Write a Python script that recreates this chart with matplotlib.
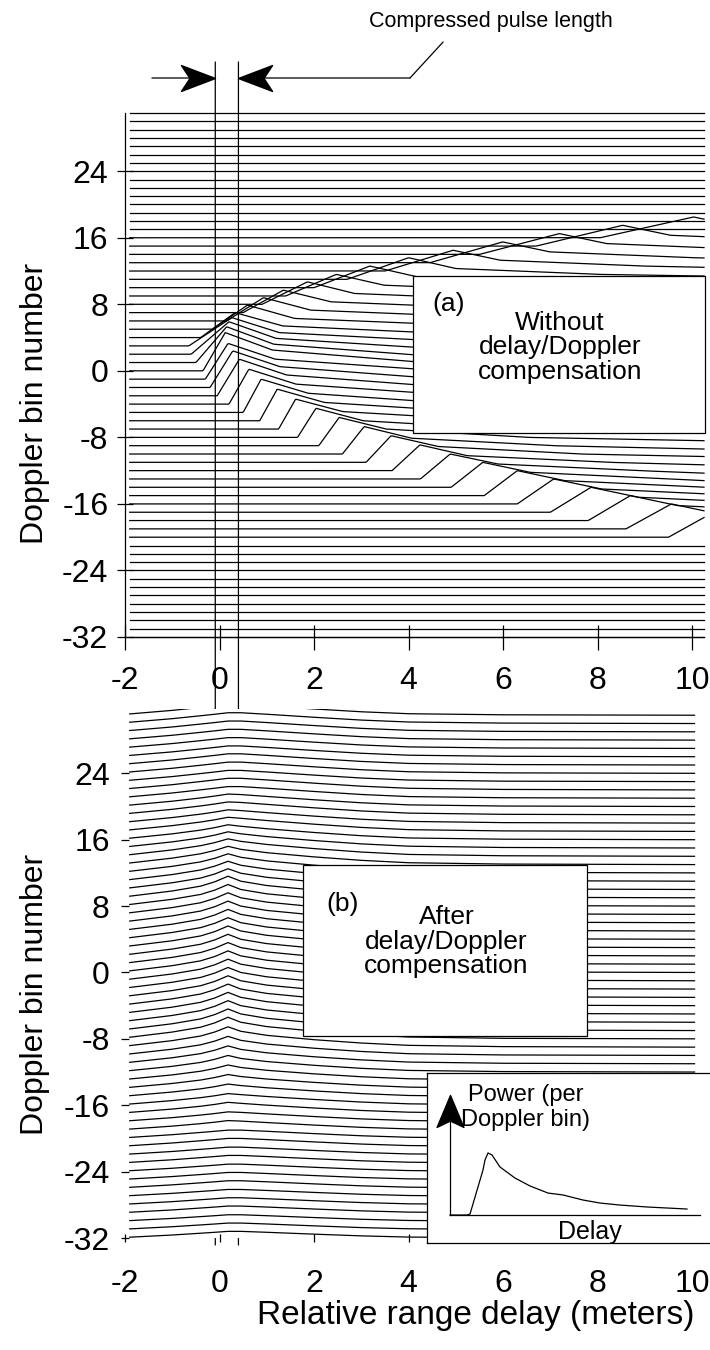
import matplotlib
matplotlib.use("Agg")
import matplotlib.pyplot as plt
from matplotlib.patches import Rectangle
from matplotlib.path import Path
import numpy as np

plt.rcParams['font.family'] = ['Liberation Sans', 'DejaVu Sans']

# ---------------- data ----------------
bins = list(range(-32, 32))                # Doppler bins, one trace each
x_ticks = [-2, 0, 2, 4, 6, 8, 10]
y_ticks = [-32, -24, -16, -8, 0, 8, 16, 24]
pulse_edges = [-0.09, 0.40]                # compressed pulse length (m)

# (a) uncompensated: per-bin leading edge, peak delay, peak height, decay knots, tail
a_bins  = [-20, -19, -18, -17, -16, -15, -14, -13, -12, -11, -10, -9, -8, -7, -6, -5, -4, -3, -2, -1,
           0, 1, 2, 3, 4, 5, 6, 7, 8, 9, 10, 11, 12, 13, 14, 15, 16]
a_onset = [9.5, 8.6, 7.8, 7.0, 6.3, 5.6, 4.9, 4.25, 3.65, 3.1, 2.6, 2.1, 1.65, 1.25, 0.85, 0.5, 0.2, -0.05, -0.2, -0.3,
           -0.35, -0.5, -0.6, -0.65, -0.4, -0.15, 0.15, 0.5, 0.9, 1.4, 2.0, 2.7, 3.5, 4.45, 5.5, 6.7, 8.05]
a_peak  = [10.45, 9.56, 8.69, 7.86, 7.07, 6.30, 5.57, 4.88, 4.24, 3.63, 3.06, 2.53, 2.04, 1.61, 1.22, 0.88, 0.62, 0.42, 0.28, 0.18,
           0.12, 0.15, 0.2, 0.26, 0.33, 0.59, 0.93, 1.35, 1.86, 2.47, 3.18, 4.0, 4.94, 5.99, 7.19, 8.53, 10.03]
a_amp   = [3.0, 3.0, 3.0, 3.0, 3.0, 3.0, 3.0, 3.0, 3.1, 3.2, 3.3, 3.4, 3.5, 3.6, 3.8, 4.0, 4.2, 4.4, 4.4, 4.3,
           4.6, 4.3, 3.9, 3.4, 3.0, 2.9, 2.8, 2.7, 2.7, 2.6, 2.6, 2.6, 2.5, 2.5, 2.5, 2.5, 2.5]
a_mid   = [1.8, 1.8, 1.8, 1.8, 1.8, 1.8, 1.8, 1.8, 1.8, 1.9, 1.9, 2.0, 2.0, 2.1, 2.2, 2.3, 2.4, 2.5, 2.5, 2.4,
           2.5, 2.2, 1.9, 1.6, 1.4, 1.3, 1.3, 1.3, 1.3, 1.3, 1.3, 1.3, 1.3, 1.3, 1.3, 1.3, 1.3]
a_mid2  = [1.0, 1.0, 1.0, 1.0, 1.0, 1.0, 1.0, 1.0, 1.0, 1.0, 1.0, 1.0, 1.0, 1.1, 1.1, 1.1, 1.2, 1.2, 1.2, 1.2,
           1.1, 0.9, 0.8, 0.7, 0.6, 0.6, 0.6, 0.6, 0.6, 0.6, 0.6, 0.6, 0.6, 0.6, 0.6, 0.6, 0.6]
a_tail  = [1.0, 1.5, 1.2, 1.0, 0.9, 0.8, 0.8, 0.7, 0.7, 0.7, 0.6, 0.6, 0.6, 0.6, 0.6, 0.6, 0.6, 0.6, 0.6, 0.6,
           0.5, 0.45, 0.4, 0.4, 0.4, 0.4, 0.4, 0.4, 0.4, 0.4, 0.4, 0.4, 0.45, 0.55, 0.8, 1.1, 1.4]

# (b) compensated: shared knot delays, sharp/broad profiles, per-bin weights
b_knots = [-1.9, -1.0, -0.4, -0.1, 0.18, 0.45, 1.0, 2.0, 3.0, 4.0, 6.0, 10.05]
b_sharp = [0.0, 0.1, 0.25, 0.55, 1.0, 0.4, 0.1, 0.0, 0.0, 0.0, 0.0, 0.0]
b_broad = [0.12, 0.45, 0.72, 0.86, 1.0, 1.0, 0.86, 0.58, 0.32, 0.14, 0.04, 0.0]
b_spike = [0.0, 0.0, 0.0, 0.0, 0.0, 0.0, 0.0, 0.0, 0.0, 0.0, 0.0, 0.0, 0.0, 0.1, 0.1, 0.2,
           0.2, 0.3, 0.4, 0.5, 0.6, 0.7, 0.8, 0.9, 1.0, 1.0, 1.0, 1.0, 1.0, 1.0, 1.0, 1.0,
           1.0, 1.0, 1.0, 1.0, 1.0, 1.0, 1.0, 1.0, 1.0, 1.0, 0.9, 0.8, 0.7, 0.6, 0.5, 0.4,
           0.3, 0.2, 0.15, 0.1, 0.1, 0.0, 0.0, 0.0, 0.0, 0.0, 0.0, 0.0, 0.0, 0.0, 0.0, 0.0]
b_hump  = [0.8, 0.8, 0.8, 0.85, 0.85, 0.85, 0.9, 0.9, 0.9, 0.95, 0.95, 1.0, 1.0, 1.05, 1.1, 1.15,
           1.2, 1.25, 1.3, 1.35, 1.4, 1.45, 1.5, 1.55, 1.6, 1.6, 1.6, 1.6, 1.6, 1.6, 1.6, 1.6,
           1.6, 1.6, 1.6, 1.6, 1.6, 1.6, 1.6, 1.6, 1.6, 1.6, 1.6, 1.6, 1.6, 1.6, 1.6, 1.55,
           1.5, 1.5, 1.45, 1.45, 1.4, 1.4, 1.4, 1.35, 1.35, 1.35, 1.3, 1.3, 1.3, 1.3, 1.3, 1.3]

# inset: schematic power vs delay for one Doppler bin
inset_delay = [0.0, 0.68, 0.8, 1.32, 1.4, 1.52, 1.68, 2.0, 2.6, 3.2, 3.92, 4.52, 5.32, 6.0, 6.8, 7.88, 9.48]
inset_power = [0.0, 0.0, 0.08, 3.75, 4.58, 5.17, 5.0, 4.0, 3.08, 2.42, 1.83, 1.67, 1.25, 1.0, 0.83, 0.67, 0.5]

# ---------------- figure ----------------
W, H = 710, 1350
fig = plt.figure(figsize=(W / 100, H / 100), dpi=100)


def px_axes(left, top, right, bottom, **kw):
    return fig.add_axes([left / W, 1 - bottom / H, (right - left) / W, (bottom - top) / H], **kw)


# stealth arrowhead markers (tip at the data point)
stealth_right = Path([(0, 0), (-1, -0.38), (-0.75, 0), (-1, 0.38), (0, 0)],
                     [Path.MOVETO, Path.LINETO, Path.LINETO, Path.LINETO, Path.CLOSEPOLY])
stealth_left = Path([(0, 0), (1, -0.38), (0.75, 0), (1, 0.38), (0, 0)],
                    [Path.MOVETO, Path.LINETO, Path.LINETO, Path.LINETO, Path.CLOSEPOLY])
stealth_up = Path([(0, 0), (-0.42, -1), (0, -0.8), (0.42, -1), (0, 0)],
                  [Path.MOVETO, Path.LINETO, Path.LINETO, Path.LINETO, Path.CLOSEPOLY])

XMIN, XMAX = -2, 10.25
ax_a = px_axes(125, 113, 704, 637)
ax_b = px_axes(125, 709, 704, 1238)

lw = 0.9
# panel (a)
for k in bins:
    if k in a_bins:
        i = a_bins.index(k)
        xp = a_peak[i]
        xs = np.array([-1.9, a_onset[i], xp, xp + 1.0, xp + 4.0, max(XMAX, xp + 4.5)])
        ys = np.array([0, 0, a_amp[i], a_mid[i], a_mid2[i], a_tail[i]])
        xx = np.linspace(-1.9, XMAX, 500)
        yy = np.interp(xx, xs, ys)
        ax_a.plot(xx, k + yy, color="black", lw=lw, clip_on=False)
    else:
        ax_a.plot([-1.9, XMAX], [k, k], color="black", lw=lw, clip_on=False)

# panel (b)
for j, k in enumerate(bins):
    prof = [k + b_spike[j] * s + b_hump[j] * b for s, b in zip(b_sharp, b_broad)]
    ax_b.plot(b_knots, prof, color="black", lw=lw)

for ax in (ax_a, ax_b):
    ax.set_xlim(XMIN, XMAX)
    ax.set_xticks(x_ticks)
    ax.set_yticks(y_ticks)
    ax.set_xticklabels([str(v) for v in x_ticks], fontsize=23)
    ax.set_yticklabels([str(v) for v in y_ticks], fontsize=23)
    ax.spines['top'].set_visible(False)
    ax.spines['right'].set_visible(False)
    ax.set_ylabel("Doppler bin number", fontsize=23)

ax_a.set_ylim(-32, 31)
ax_b.set_ylim(-32, 31.75)

ax_a.tick_params(axis='both', direction='inout', length=12, width=0.9)
ax_a.tick_params(axis='x', length=18, pad=12)
ax_a.tick_params(axis='y', pad=6)
ax_a.spines['left'].set_linewidth(0.9)
ax_a.spines['bottom'].set_linewidth(0.9)
ax_a.yaxis.set_label_coords(-0.13, 0.445)

ax_b.spines['left'].set_visible(False)
ax_b.spines['bottom'].set_visible(False)
ax_b.tick_params(axis='both', direction='inout', length=6, width=0.9)
ax_b.tick_params(axis='x', pad=19)
ax_b.tick_params(axis='y', pad=8)
ax_b.yaxis.set_label_coords(-0.13, 0.46)
ax_b.set_xlabel("Relative range delay (meters)", fontsize=24)
ax_b.xaxis.set_label_coords(0.605, -0.118)

# text boxes
ax_a.add_patch(Rectangle((4.10, -7.5), 6.17, 18.9, facecolor="white", edgecolor="black",
                         lw=0.9, zorder=5, clip_on=False))
ax_a.text(4.85, 8.0, "(a)", fontsize=19, ha="center", va="center", zorder=6)
ax_a.text(7.2, 7.2, "Without\ndelay/Doppler\ncompensation", fontsize=19, ha="center", va="top",
          linespacing=1.02, zorder=6)

ax_b.add_patch(Rectangle((1.77, -7.6), 6.01, 20.6, facecolor="white", edgecolor="black",
                         lw=0.9, zorder=5))
ax_b.text(2.6, 8.3, "(b)", fontsize=19, ha="center", va="center", zorder=6)
ax_b.text(4.8, 8.1, "After\ndelay/Doppler\ncompensation", fontsize=19, ha="center", va="top",
          linespacing=1.02, zorder=6)

# pulse-length markers running through both panels
ffr = ('data', 'figure fraction')
for xe in pulse_edges:
    ax_a.annotate("", xy=(xe, 1 - 1245 / H), xytext=(xe, 1 - 62 / H), xycoords=ffr, textcoords=ffr,
                  arrowprops=dict(arrowstyle='-', lw=0.9, color="black", shrinkA=0, shrinkB=0),
                  annotation_clip=False)

ya = 1 - 78 / H
ax_a.annotate("", xy=(pulse_edges[0] - 0.5, ya), xytext=(-1.43, ya), xycoords=ffr, textcoords=ffr,
              arrowprops=dict(arrowstyle='-', lw=0.9, color="black", shrinkA=0, shrinkB=0),
              annotation_clip=False)
ax_a.annotate("", xy=(pulse_edges[1] + 0.5, ya), xytext=(4.03, ya), xycoords=ffr, textcoords=ffr,
              arrowprops=dict(arrowstyle='-', lw=0.9, color="black", shrinkA=0, shrinkB=0),
              annotation_clip=False)
ax_a.annotate("", xy=(4.73, 1 - 42 / H), xytext=(4.03, ya), xycoords=ffr, textcoords=ffr,
              arrowprops=dict(arrowstyle='-', lw=0.9, color="black", shrinkA=0, shrinkB=0),
              annotation_clip=False)
tr_top = ax_a.get_xaxis_transform()
ya_ax = (H - 78 - (H - 637)) / (637 - 113)
ax_a.plot([pulse_edges[0]], [ya_ax], marker=stealth_right, markersize=49, color="black",
          transform=tr_top, clip_on=False, linestyle="none")
ax_a.plot([pulse_edges[1]], [ya_ax], marker=stealth_left, markersize=49, color="black",
          transform=tr_top, clip_on=False, linestyle="none")
fig.text(491 / W, 1 - 22 / H, "Compressed pulse length", fontsize=15.5, ha="center", va="center")

# inset
ax_in = px_axes(427, 1073, 712, 1243, zorder=10)
ax_in.set_facecolor("white")
ax_in.plot(inset_delay, inset_power, color="black", lw=0.9)
ax_in.set_xlim(-0.92, 10.48)
ax_in.set_ylim(-2.33, 11.83)
ax_in.set_xticks([])
ax_in.set_yticks([])
for s in ax_in.spines.values():
    s.set_linewidth(0.9)
ax_in.plot([0, 0], [0, 8.5], color="black", lw=0.9)
ax_in.plot([0, 10], [0, 0], color="black", lw=0.9)
ax_in.plot([0], [10], marker=stealth_up, markersize=46, color="black", linestyle="none")
ax_in.text(0.7, 10.0, "Power (per", fontsize=17, ha="left", va="center")
ax_in.text(0.45, 7.9, "Doppler bin)", fontsize=17, ha="left", va="center")
ax_in.text(5.6, -1.45, "Delay", fontsize=18, ha="center", va="center")

fig.savefig("out.png", dpi=100)
